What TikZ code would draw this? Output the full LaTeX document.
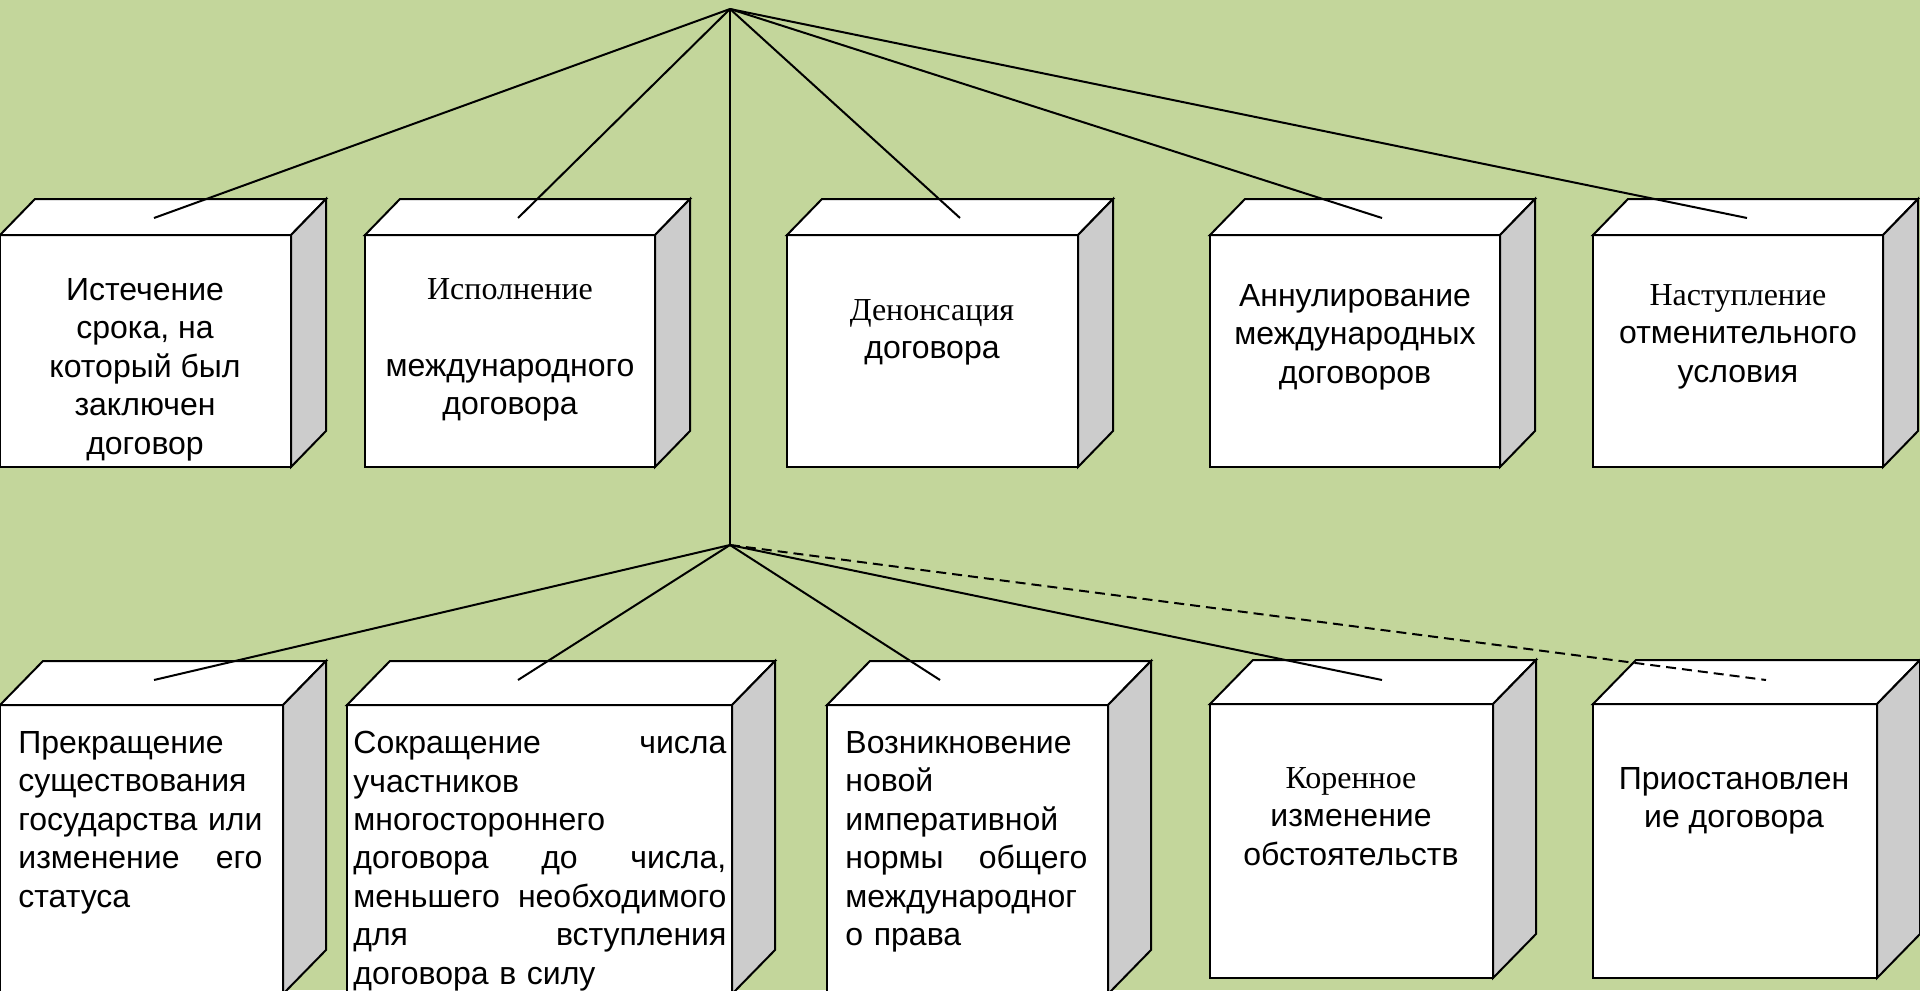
\documentclass[tikz,border=0pt]{standalone}
\usepackage{fontspec}
\setmainfont{Liberation Sans}
\newfontfamily\serif{Liberation Serif}
\definecolor{bg}{RGB}{195,214,155}
\definecolor{sidegray}{RGB}{204,204,204}
\newcommand\jl[1]{\leavevmode\hbox to \hsize{#1}}
% cube: x0 y0 x1 y1 dx dy  (pixel coords, y downward)
\newcommand\mycube[6]{%
  \filldraw[boxline,fill=white] (#1,#2) rectangle (#3,#4);
  \filldraw[boxline,fill=white] (#1,#2) -- (#1+#5,#2-#6) -- (#3+#5,#2-#6) -- (#3,#2) -- cycle;
  \filldraw[boxline,fill=sidegray] (#3,#2) -- (#3+#5,#2-#6) -- (#3+#5,#4-#6) -- (#3,#4) -- cycle;
}
\begin{document}
\begin{tikzpicture}[x=0.5pt,y=-0.5pt,
  boxline/.style={draw=black,line width=1pt,line join=miter},
  conn/.style={draw=black,line width=1pt},
  dconn/.style={conn,dash pattern=on 5pt off 3pt},
  ctxt/.style={inner sep=0pt,anchor=north,align=center,font=\fontsize{16}{19.2}\selectfont},
  ltxt/.style={inner sep=0pt,anchor=north west,align=left,font=\fontsize{16}{19.2}\selectfont}]
\useasboundingbox (0,0) rectangle (1920,990);
\clip (0,0) rectangle (1920,990);
\fill[bg] (0,0) rectangle (1920,990);

% top row
\mycube{0}{235}{291}{467}{35}{36}
\mycube{365}{235}{655}{467}{35}{36}
\mycube{787}{235}{1078}{467}{35}{36}
\mycube{1210}{235}{1500}{467}{35}{36}
\mycube{1593}{235}{1883}{467}{35}{36}
% bottom row
\mycube{0}{705}{283}{994}{43}{44}
\mycube{347}{705}{732}{994}{43}{44}
\mycube{827}{705}{1108}{994}{43}{44}
\mycube{1210}{704}{1493}{978}{43}{44}
\mycube{1593}{704}{1877}{978}{43}{44}

% texts top row
\node[ctxt] (n1) at (145,278) {Истечение\\срока, на\\который был\\заключен\\договор};
\node[ctxt] (n2) at (510,278) {{\serif Исполнение}\\\mbox{}\\международного\\договора};
\node[ctxt] (n3) at (932,299) {{\serif Денонсация}\\договора};
\node[ctxt] (n4) at (1355,284) {Аннулирование\\международных\\договоров};
\node[ctxt] (n5) at (1738,284) {{\serif Наступление}\\отменительного\\условия};

% texts bottom row
\node[ltxt,text width=122pt] (n6) at (18,731) {Прекращение\\существования\\\mbox{государства или}\\\jl{изменение\hfill его}\\статуса};
\node[ltxt,text width=186.5pt] (n7) at (353,731) {\jl{Сокращение\hfill числа}\\участников\\многостороннего\\\jl{договора\hfill до\hfill числа,}\\\jl{меньшего\hfill необходимого}\\\jl{для\hfill вступления}\\договора в силу};
\node[ltxt,text width=121pt] (n8) at (845,731) {Возникновение\\новой\\императивной\\\jl{нормы\hfill общего}\\международног\\о права};
\node[ctxt] (n9) at (1351,767) {{\serif Коренное}\\изменение\\обстоятельств};
\node[ctxt] (n10) at (1734,767) {Приостановлен\\ие договора};

% connector points
\coordinate (A) at (730,9);
\coordinate (B) at (730,545);
\coordinate (t1) at (154,218);
\coordinate (t2) at (518,218);
\coordinate (t3) at (960,218);
\coordinate (t4) at (1382,218);
\coordinate (t5) at (1747,218);
\coordinate (b1) at (154,680);
\coordinate (b2) at (518,680);
\coordinate (b3) at (940,680);
\coordinate (b4) at (1382,680);
\coordinate (b5) at (1766,680);

\draw[conn] (A) -- (t1);
\draw[conn] (A) -- (t2);
\draw[conn] (A) -- (t3);
\draw[conn] (A) -- (t4);
\draw[conn] (A) -- (t5);
\draw[conn] (A) -- (B);
\draw[conn] (B) -- (b1);
\draw[conn] (B) -- (b2);
\draw[conn] (B) -- (b3);
\draw[conn] (B) -- (b4);
\draw[dconn] (B) -- (b5);
\end{tikzpicture}
\end{document}
